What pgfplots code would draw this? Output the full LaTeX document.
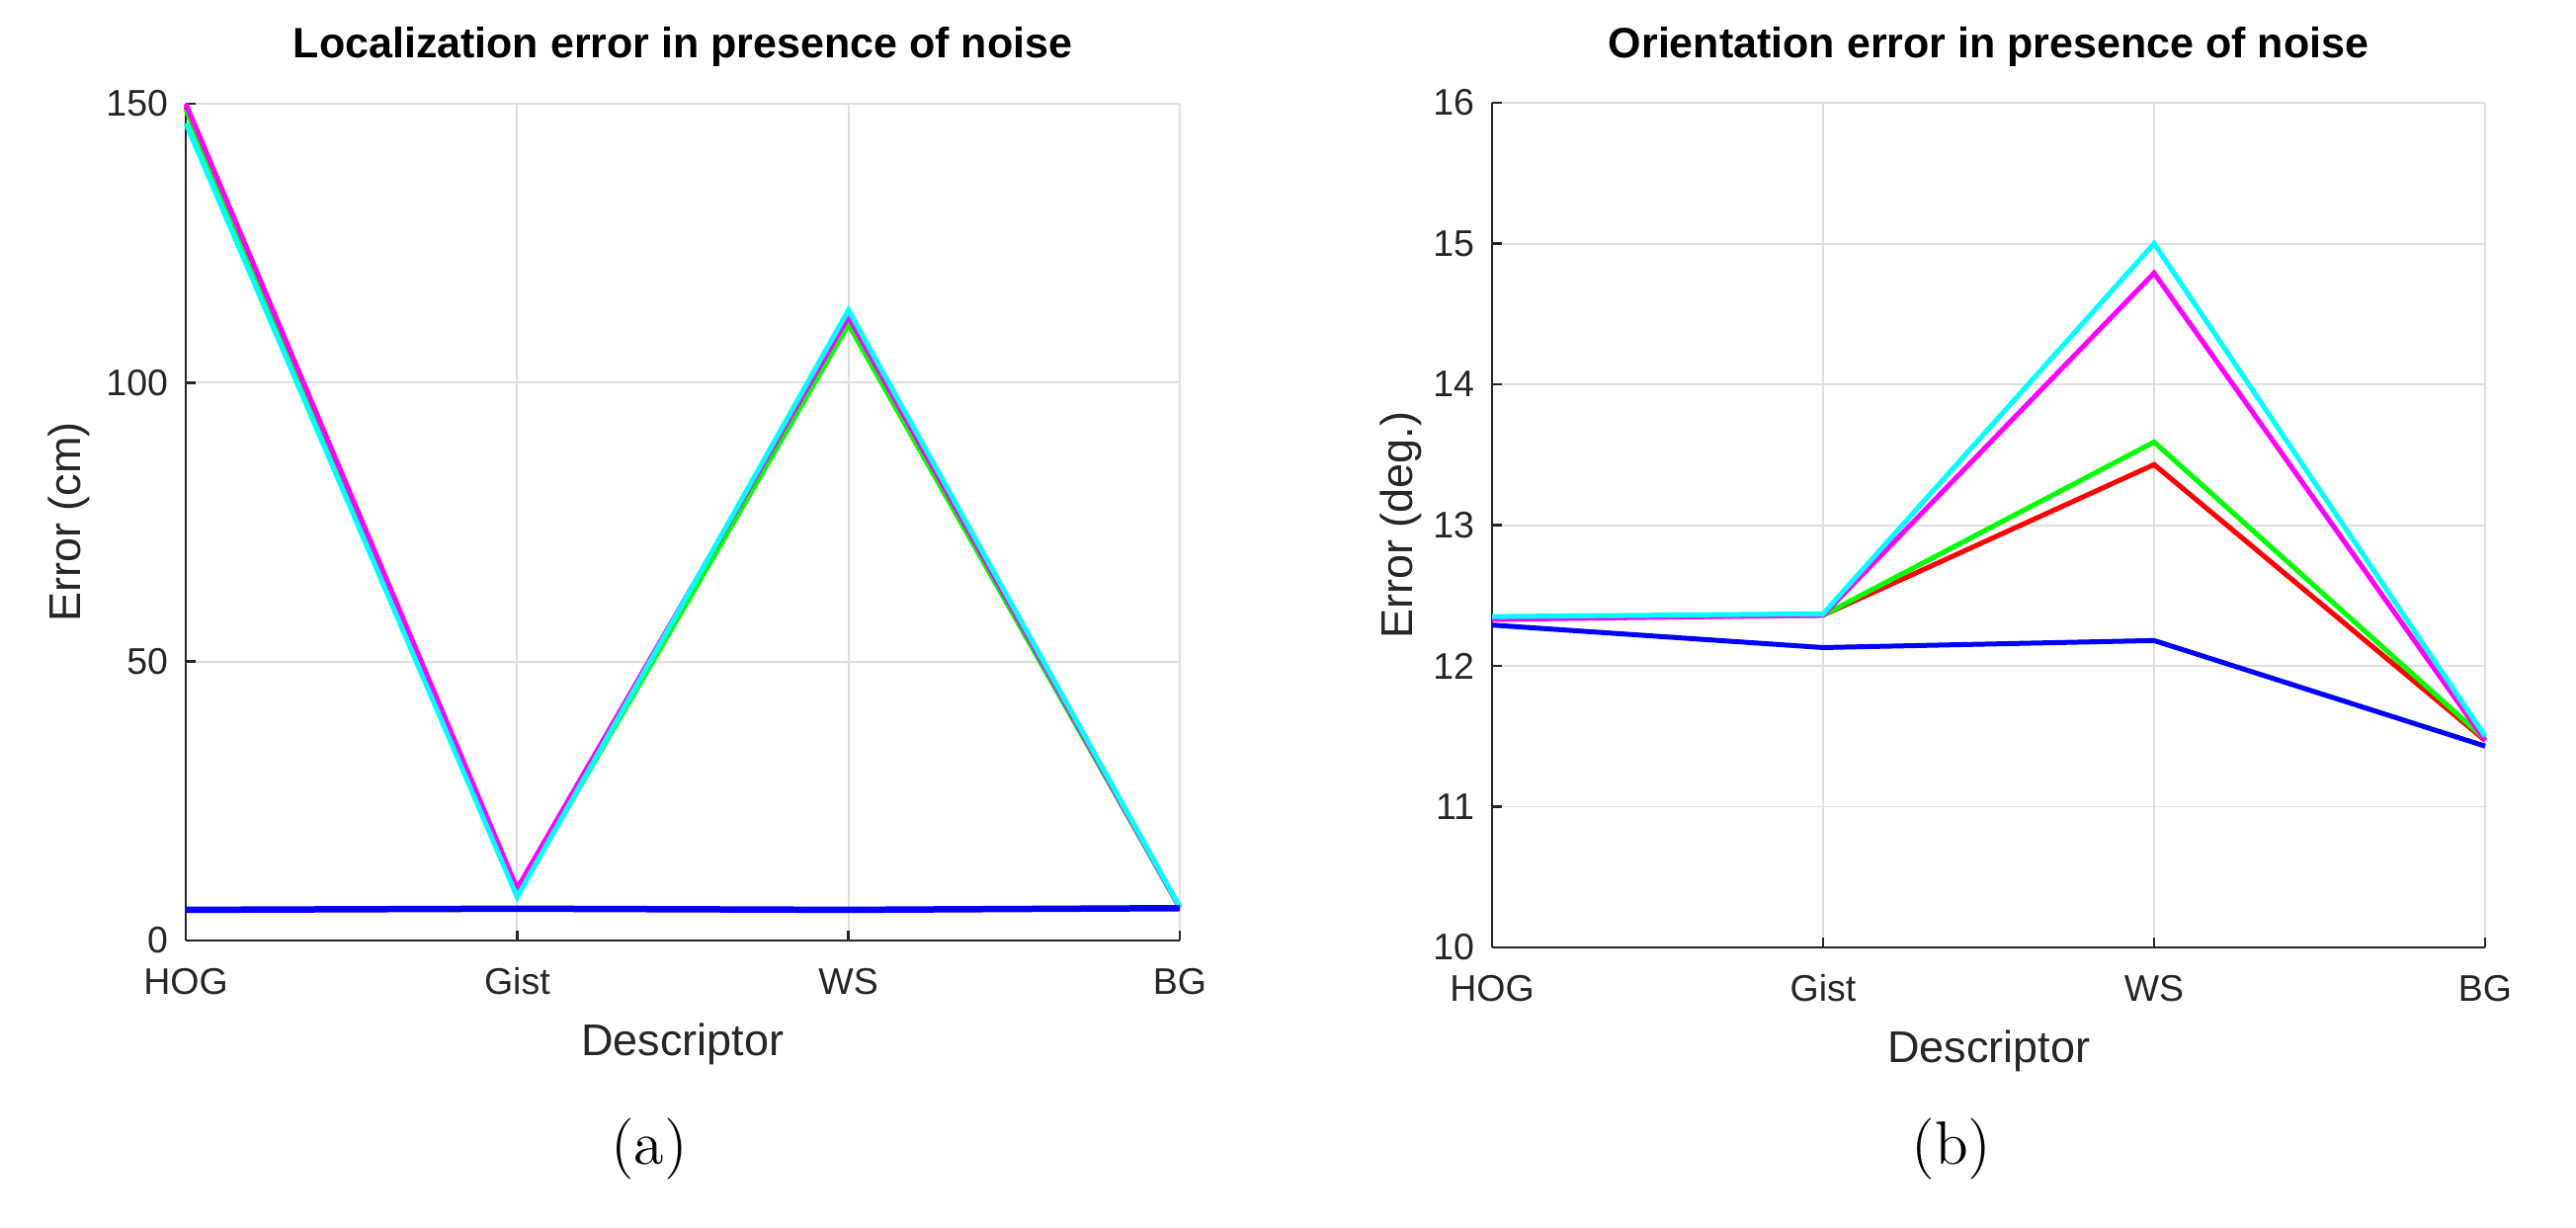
\documentclass[border=0pt]{standalone}
\usepackage{fontspec}
\setsansfont{Liberation Sans}
\usepackage{pgfplots}
\pgfplotsset{compat=1.18}

\definecolor{txt}{HTML}{262626}
\definecolor{gridc}{HTML}{DFDFDF}
\definecolor{mred}{rgb}{1,0,0}
\definecolor{mgreen}{rgb}{0,1,0}
\definecolor{mblue}{rgb}{0,0,1}
\definecolor{mmag}{rgb}{1,0,1}
\definecolor{mcyan}{rgb}{0,1,1}

\pgfplotsset{
  mlab/.style={
    scale only axis,
    clip=false,
    axis x line*=bottom,
    axis y line*=left,
    axis line style={txt, line width=0.5pt},
    xmin=1, xmax=4,
    xtick={1,2,3,4},
    xticklabels={HOG,Gist,WS,BG},
    grid=major,
    major grid style={gridc, line width=0.4pt},
    tick align=inside,
    major tick length=2pt,
    tick style={txt, line width=0.5pt},
    tick label style={font=\sffamily\fontsize{7.5}{9}\selectfont, text=txt},
    /pgf/number format/assume math mode=true,
    xticklabel style={anchor=base, yshift=-11pt},
    yticklabel style={anchor=east, inner sep=0pt, xshift=-3.4pt},
    label style={font=\sffamily\fontsize{9}{11}\selectfont, text=txt},
    xlabel style={at={(axis description cs:0.5,0)}, anchor=base, yshift=-23.4pt},
    ylabel style={at={(axis description cs:0,0.5)}, anchor=center},
    title style={font=\sffamily\bfseries\fontsize{8.6}{10}\selectfont,
      at={(axis description cs:0.5,1)}, anchor=base, yshift=3.2pt},
    every axis plot/.append style={line width=1pt, mark=none},
  }
}

\begin{document}
\begin{tikzpicture}
\path[use as bounding box] (0,0) rectangle (521.4pt,248.6pt);

% (a) localization error
\begin{axis}[
    mlab,
    at={(37.6pt,58.2pt)}, anchor=south west,
    width=201.2pt, height=169.4pt,
    ymin=0, ymax=150,
    ytick={0,50,100,150},
    xlabel={Descriptor},
    ylabel={Error (cm)},
    ylabel style={yshift=23.6pt},
    title={Localization error in presence of noise},
]
\addplot[mred] coordinates {(1,149.5) (2,8.5) (3,111.0) (4,5.9)};
\addplot[mgreen] coordinates {(1,149.0) (2,8.2) (3,110.4) (4,5.9)};
\addplot[mmag] coordinates {(1,150.0) (2,9.3) (3,111.8) (4,5.9)};
\addplot[mcyan] coordinates {(1,146.5) (2,7.8) (3,113.0) (4,6.0)};
\addplot[mblue, line width=1.3pt] coordinates {(1,5.5) (2,5.7) (3,5.5) (4,5.8)};
\end{axis}

% (b) orientation error
\begin{axis}[
    mlab,
    at={(302pt,56.8pt)}, anchor=south west,
    width=201pt, height=171pt,
    ymin=10, ymax=16,
    ytick={10,11,...,16},
    xlabel={Descriptor},
    ylabel={Error (deg.)},
    ylabel style={yshift=18.4pt},
    title={Orientation error in presence of noise},
]
\addplot[mred] coordinates {(1,12.34) (2,12.36) (3,13.43) (4,11.47)};
\addplot[mgreen] coordinates {(1,12.34) (2,12.36) (3,13.59) (4,11.48)};
\addplot[mmag] coordinates {(1,12.33) (2,12.36) (3,14.79) (4,11.47)};
\addplot[mcyan] coordinates {(1,12.35) (2,12.37) (3,15.00) (4,11.50)};
\addplot[mblue] coordinates {(1,12.29) (2,12.13) (3,12.18) (4,11.43)};
\end{axis}

\node[font=\fontsize{12.4}{14}\selectfont, inner sep=0pt] at (131.4pt,16pt) {(a)};
\node[font=\fontsize{12.4}{14}\selectfont, inner sep=0pt] at (395pt,16pt) {(b)};
\end{tikzpicture}
\end{document}
